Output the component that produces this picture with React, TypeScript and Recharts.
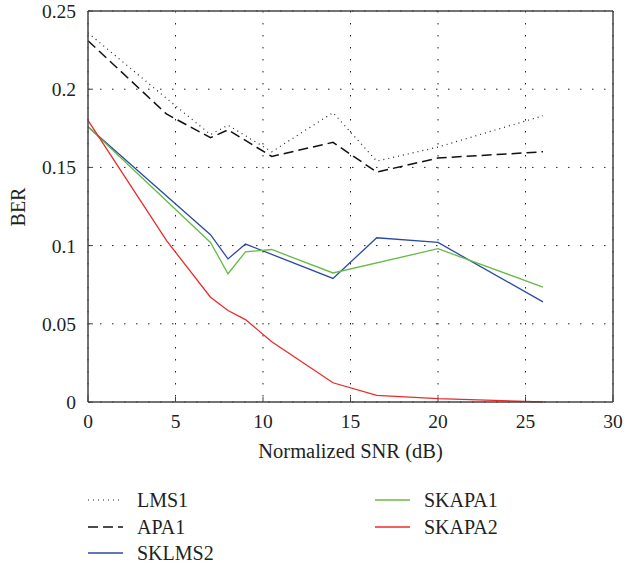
import { LineChart, Line, XAxis, YAxis, CartesianGrid } from "recharts";

const xTicks = [0, 5, 10, 15, 20, 25, 30];
const yTicks = [0, 0.05, 0.1, 0.15, 0.2, 0.25];

const lms1X = [0, 4.5, 7, 8, 10.5, 14, 16.5, 20, 26];
const lms1Y = [0.236, 0.194, 0.171, 0.177, 0.16, 0.185, 0.154, 0.163, 0.183];

const apa1X = [0, 4.5, 7, 8, 10.5, 14, 16.5, 20, 26];
const apa1Y = [0.231, 0.184, 0.169, 0.174, 0.157, 0.166, 0.147, 0.156, 0.16];

const sklms2X = [0, 7, 8, 9, 14, 16.5, 20, 26];
const sklms2Y = [0.176, 0.107, 0.0915, 0.101, 0.079, 0.105, 0.102, 0.064];

const skapa1X = [0, 7, 8, 9, 10.5, 14, 20, 26];
const skapa1Y = [0.176, 0.102, 0.082, 0.096, 0.0975, 0.0825, 0.098, 0.0735];

const skapa2X = [0, 4.5, 7, 8, 9, 10.5, 14, 16.5, 20, 26];
const skapa2Y = [0.18, 0.103, 0.067, 0.0585, 0.0527, 0.0385, 0.0123, 0.0042, 0.0021, 0];

const toPoints = (xs: number[], ys: number[]) =>
  xs.map((x, i) => ({ x, y: ys[i] }));

const FONT = '"Liberation Serif", "Times New Roman", serif';
const AXIS = "#444";
const TEXT = "#231f20";

const series = [
  { name: "LMS1", data: toPoints(lms1X, lms1Y), color: "#222", dash: "1 4", width: 1.2 },
  { name: "APA1", data: toPoints(apa1X, apa1Y), color: "#111", dash: "10 5", width: 1.5 },
  { name: "SKLMS2", data: toPoints(sklms2X, sklms2Y), color: "#2b4ba3", dash: undefined, width: 1.3 },
  { name: "SKAPA1", data: toPoints(skapa1X, skapa1Y), color: "#66bb44", dash: undefined, width: 1.3 },
  { name: "SKAPA2", data: toPoints(skapa2X, skapa2Y), color: "#ec2a2a", dash: undefined, width: 1.3 },
];

const LegendItem = ({ s, x, y }: { s: (typeof series)[number]; x: number; y: number }) => (
  <div
    style={{
      position: "absolute",
      left: x,
      top: y - 13,
      height: 26,
      display: "flex",
      alignItems: "center",
      fontFamily: FONT,
      fontSize: 20,
      color: TEXT,
      whiteSpace: "nowrap",
    }}
  >
    <svg width={35} height={10} style={{ marginRight: 14 }}>
      <line x1={0} y1={5} x2={35} y2={5} stroke={s.color} strokeWidth={s.width} strokeDasharray={s.dash} />
    </svg>
    {s.name}
  </div>
);

export default function App() {
  return (
    <div style={{ position: "absolute", left: 0, top: 0, width: 629, height: 567, background: "#fff" }}>
      <LineChart
        width={629}
        height={470}
        margin={{ top: 10, right: 15, bottom: 18, left: 0 }}
      >
        <CartesianGrid stroke="#222" strokeDasharray="1.5 10.5" />
        <XAxis
          type="number"
          dataKey="x"
          domain={[0, 30]}
          ticks={xTicks}
          height={50}
          axisLine={{ stroke: AXIS, strokeWidth: 1.5 }}
          tickLine={{ stroke: AXIS }}
          tickSize={-5}
          tickMargin={17}
          tick={{ fill: TEXT, fontFamily: FONT, fontSize: 19.5 }}
          label={{
            value: "Normalized SNR (dB)",
            position: "insideBottom",
            offset: -6,
            fill: TEXT,
            fontFamily: FONT,
            fontSize: 20.5,
          }}
        />
        <XAxis
          xAxisId="top"
          orientation="top"
          type="number"
          dataKey="x"
          domain={[0, 30]}
          ticks={xTicks}
          height={1}
          axisLine={{ stroke: AXIS, strokeWidth: 1.5 }}
          tickLine={{ stroke: AXIS }}
          tickSize={-4}
          tick={false}
        />
        <YAxis
          type="number"
          domain={[0, 0.25]}
          ticks={yTicks}
          width={88}
          axisLine={{ stroke: AXIS, strokeWidth: 1.5 }}
          tickLine={{ stroke: AXIS }}
          tickSize={-5}
          tickMargin={17}
          tick={{ fill: TEXT, fontFamily: FONT, fontSize: 19.5 }}
        />
        <YAxis
          yAxisId="right"
          orientation="right"
          type="number"
          domain={[0, 0.25]}
          ticks={yTicks}
          width={1}
          axisLine={{ stroke: AXIS, strokeWidth: 1.5 }}
          tickLine={{ stroke: AXIS }}
          tickSize={-4}
          tick={false}
        />
        {series.map((s) => (
          <Line
            key={s.name}
            data={s.data}
            dataKey="y"
            name={s.name}
            type="linear"
            stroke={s.color}
            strokeWidth={s.width}
            strokeDasharray={s.dash}
            dot={false}
            activeDot={false}
            isAnimationActive={false}
          />
        ))}
      </LineChart>
      <div
        style={{
          position: "absolute",
          left: 18,
          top: 207,
          transform: "translate(-50%, -50%) rotate(-90deg)",
          fontFamily: FONT,
          fontSize: 20,
          color: TEXT,
        }}
      >
        BER
      </div>
      <LegendItem s={series[0]} x={88} y={500} />
      <LegendItem s={series[1]} x={88} y={527} />
      <LegendItem s={series[2]} x={88} y={553} />
      <LegendItem s={series[3]} x={375} y={500} />
      <LegendItem s={series[4]} x={375} y={527} />
    </div>
  );
}
